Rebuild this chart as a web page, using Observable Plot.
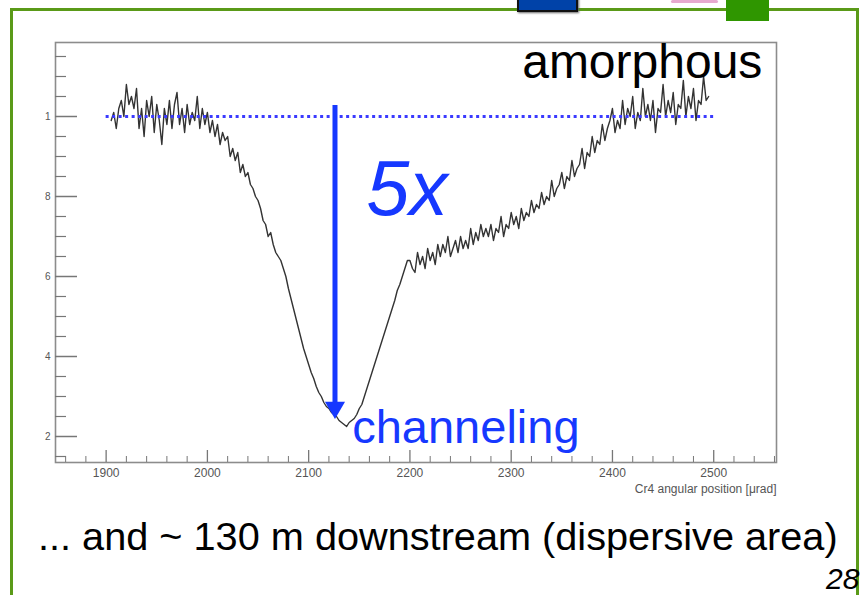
<!DOCTYPE html>
<html>
<head>
<meta charset="utf-8">
<script src="https://cdn.jsdelivr.net/npm/d3@7"></script>
<script src="https://cdn.jsdelivr.net/npm/@observablehq/plot@0.6"></script>
<style>
  html, body { margin: 0; padding: 0; background: #fff; overflow: hidden; }
  body { width: 863px; height: 595px; position: relative; font-family: "Liberation Sans", Arial, sans-serif; }
  #chart { position: absolute; left: 0; top: 0; }
  .deco { position: absolute; box-sizing: border-box; }
  #caption { position: absolute; left: 38px; top: 512px; font-size: 39.7px; line-height: 48px; color: #000; white-space: nowrap; }
  #page { position: absolute; left: 826px; top: 563px; font-size: 30px; line-height: 32px; font-style: italic; color: #000; }
</style>
</head>
<body>
<div class="deco" style="left:10px;top:8px;width:849px;height:610px;border:3px solid #5a9a18;"></div>
<div class="deco" style="left:517px;top:-4px;width:61px;height:16px;background:#0042a8;border:2px solid #111;box-shadow:1px 1px 2px #666;"></div>
<div class="deco" style="left:671px;top:0px;width:47px;height:3px;background:#e7a9cf;border-radius:2px;"></div>
<div class="deco" style="left:726px;top:0px;width:43px;height:21px;background:#2f9600;"></div>
<div id="chart"></div>
<div id="caption">... and ~ 130 m downstream (dispersive area)</div>
<div id="page">28</div>
<script>
// Angular position of Cr4 (μrad), bin centres every 2.5 μrad
const angle = [
  1905,1907.5,1910,1912.5,1915,1917.5,1920,1922.5,1925,1927.5,
  1930,1932.5,1935,1937.5,1940,1942.5,1945,1947.5,1950,1952.5,
  1955,1957.5,1960,1962.5,1965,1967.5,1970,1972.5,1975,1977.5,
  1980,1982.5,1985,1987.5,1990,1992.5,1995,1997.5,2000,2002.5,
  2005,2007.5,2010,2012.5,2015,2017.5,2020,2022.5,2025,2027.5,
  2030,2032.5,2035,2037.5,2040,2042.5,2045,2047.5,2050,2052.5,
  2055,2057.5,2060,2062.5,2065,2067.5,2070,2072.5,2075,2077.5,
  2080,2082.5,2085,2087.5,2090,2092.5,2095,2097.5,2100,2102.5,
  2105,2107.5,2110,2112.5,2115,2117.5,2120,2122.5,2125,2127.5,
  2130,2132.5,2135,2137.5,2140,2142.5,2145,2147.5,2150,2152.5,
  2155,2157.5,2160,2162.5,2165,2167.5,2170,2172.5,2175,2177.5,
  2180,2182.5,2185,2187.5,2190,2192.5,2195,2197.5,2200,2202.5,
  2205,2207.5,2210,2212.5,2215,2217.5,2220,2222.5,2225,2227.5,
  2230,2232.5,2235,2237.5,2240,2242.5,2245,2247.5,2250,2252.5,
  2255,2257.5,2260,2262.5,2265,2267.5,2270,2272.5,2275,2277.5,
  2280,2282.5,2285,2287.5,2290,2292.5,2295,2297.5,2300,2302.5,
  2305,2307.5,2310,2312.5,2315,2317.5,2320,2322.5,2325,2327.5,
  2330,2332.5,2335,2337.5,2340,2342.5,2345,2347.5,2350,2352.5,
  2355,2357.5,2360,2362.5,2365,2367.5,2370,2372.5,2375,2377.5,
  2380,2382.5,2385,2387.5,2390,2392.5,2395,2397.5,2400,2402.5,
  2405,2407.5,2410,2412.5,2415,2417.5,2420,2422.5,2425,2427.5,
  2430,2432.5,2435,2437.5,2440,2442.5,2445,2447.5,2450,2452.5,
  2455,2457.5,2460,2462.5,2465,2467.5,2470,2472.5,2475,2477.5,
  2480,2482.5,2485,2487.5,2490,2492.5,2495
];
// Normalised counts downstream
const counts = [
  0.99,1.01,0.97,1.02,1.04,1.00,1.08,1.03,1.05,1.02,
  1.07,0.97,1.02,0.95,1.04,1.00,1.05,0.96,1.03,0.99,
  0.93,1.02,0.98,1.04,0.97,1.03,1.06,0.98,1.02,0.96,
  1.03,0.98,1.01,0.99,1.05,0.97,1.02,0.98,1.01,0.96,
  0.99,0.95,0.98,0.93,0.96,0.94,0.95,0.90,0.92,0.89,
  0.91,0.86,0.88,0.85,0.86,0.83,0.82,0.80,0.79,0.77,
  0.74,0.73,0.70,0.71,0.68,0.66,0.65,0.64,0.62,0.60,
  0.57,0.545,0.52,0.495,0.47,0.445,0.42,0.40,0.38,0.36,
  0.345,0.325,0.31,0.30,0.285,0.275,0.27,0.26,0.255,0.25,
  0.24,0.235,0.23,0.225,0.235,0.24,0.245,0.255,0.27,0.28,
  0.30,0.32,0.34,0.36,0.38,0.40,0.42,0.44,0.46,0.48,
  0.50,0.52,0.54,0.565,0.58,0.60,0.62,0.64,0.64,0.62,
  0.61,0.66,0.63,0.65,0.62,0.67,0.64,0.66,0.63,0.68,
  0.65,0.68,0.66,0.70,0.65,0.67,0.69,0.66,0.70,0.67,
  0.69,0.67,0.72,0.68,0.71,0.69,0.73,0.70,0.72,0.70,
  0.73,0.69,0.72,0.71,0.75,0.70,0.73,0.72,0.76,0.73,
  0.75,0.72,0.77,0.74,0.76,0.75,0.79,0.76,0.78,0.77,
  0.81,0.78,0.80,0.79,0.84,0.80,0.82,0.83,0.86,0.82,
  0.85,0.84,0.89,0.85,0.87,0.88,0.92,0.87,0.91,0.90,
  0.95,0.91,0.94,0.93,0.98,0.94,0.97,0.99,1.02,0.96,
  0.99,0.97,1.04,0.98,1.02,1.00,1.05,0.97,1.01,0.99,
  1.07,1.00,1.03,0.99,1.04,0.96,1.02,1.01,1.08,1.00,
  1.04,1.01,1.06,0.98,1.03,1.02,1.09,1.00,1.05,1.02,
  1.07,0.99,1.04,1.03,1.10,1.04,1.05
];
const xMajor = [1900,2000,2100,2200,2300,2400,2500];
const xTickLabels = ["1900","2000","2100","2200","2300","2400","2500"];
const xMinor = [1860,1880,1920,1940,1960,1980,2020,2040,2060,2080,2120,2140,2160,2180,2220,2240,2260,2280,2320,2340,2360,2380,2420,2440,2460,2480,2520,2540,2560];
const yMajor = [1, 0.8, 0.6, 0.4, 0.2];
const yTickLabels = ["1","8","6","4","2"];
const yMinor = [0.15,0.25,0.3,0.35,0.45,0.5,0.55,0.65,0.7,0.75,0.85,0.9,0.95,1.05,1.1,1.15];
const amorphousLevel = [1];
const amorphousRange = [1900, 2500];
const arrowX = [2126];
const arrowTop = [1.0275];
const arrowShaftEnd = [0.285];
const arrowTip = [0.2725];
const annotations = [
  {text: "5x", x: 2157, y: 0.815},
  {text: "amorphous", x: 2548, y: 1.135},
  {text: "channeling", x: 2143, y: 0.2225}
];
const xTitle = "Cr4 angular position [μrad]";

const data = angle.map((a, i) => ({angle: a, count: counts[i]}));
const blue = "#1638ff";

const chart = Plot.plot({
  width: 863,
  height: 500,
  marginLeft: 55,
  marginRight: 87,
  marginTop: 42,
  marginBottom: 38,
  x: {domain: [1850, 2562]},
  y: {domain: [0.135, 1.185]},
  style: {fontFamily: "Liberation Sans, Arial, sans-serif", background: "transparent", overflow: "visible"},
  marks: [
    Plot.frame({stroke: "#8c8c8c", strokeWidth: 1.6}),
    Plot.axisX({ticks: xMajor, tickSize: -12, tickFormat: () => "", label: null, stroke: "#777", strokeWidth: 1.3}),
    Plot.axisX({ticks: xMinor, tickSize: -6, tickFormat: () => "", label: null, stroke: "#777", strokeWidth: 1}),
    Plot.axisX({ticks: xMajor, tickSize: 0, tickPadding: 6, fontSize: 12, fill: "#555",
      tickFormat: d => xTickLabels[xMajor.indexOf(d)], label: null}),
    Plot.axisY({ticks: yMajor, tickSize: -22, tickFormat: () => "", label: null, stroke: "#777", strokeWidth: 1.5}),
    Plot.axisY({ticks: yMinor, tickSize: -11, tickFormat: () => "", label: null, stroke: "#777", strokeWidth: 1.2}),
    Plot.axisY({ticks: yMajor, tickSize: 0, tickPadding: 5, fontSize: 10, fill: "#555",
      tickFormat: d => yTickLabels[yMajor.indexOf(d)], label: null}),
    Plot.text([xTitle], {frameAnchor: "bottom-right", dy: 30, textAnchor: "end", fontSize: 12, fill: "#555"}),
    Plot.line(data, {x: "angle", y: "count", stroke: "#333", strokeWidth: 1.4}),
    Plot.ruleY(amorphousLevel, {x1: amorphousRange[0], x2: amorphousRange[1], stroke: "#3a3aff",
      strokeWidth: 3, strokeDasharray: "3,3.5"}),
    Plot.ruleX(arrowX, {y1: arrowTop[0], y2: arrowShaftEnd[0], stroke: blue, strokeWidth: 5}),
    Plot.dot(arrowX, {x: d => d, y: arrowTip[0], symbol: "triangle2", r: 9.6, rotate: 180, fill: blue, stroke: "none"}),
    Plot.text([annotations[0]], {x: "x", y: "y", text: "text", fontSize: 77, fontStyle: "italic", fill: blue, textAnchor: "start"}),
    Plot.text([annotations[1]], {x: "x", y: "y", text: "text", fontSize: 48, fill: "#000", textAnchor: "end"}),
    Plot.text([annotations[2]], {x: "x", y: "y", text: "text", fontSize: 47, fill: blue, textAnchor: "start"})
  ]
});
document.getElementById("chart").appendChild(chart);
</script>
</body>
</html>
